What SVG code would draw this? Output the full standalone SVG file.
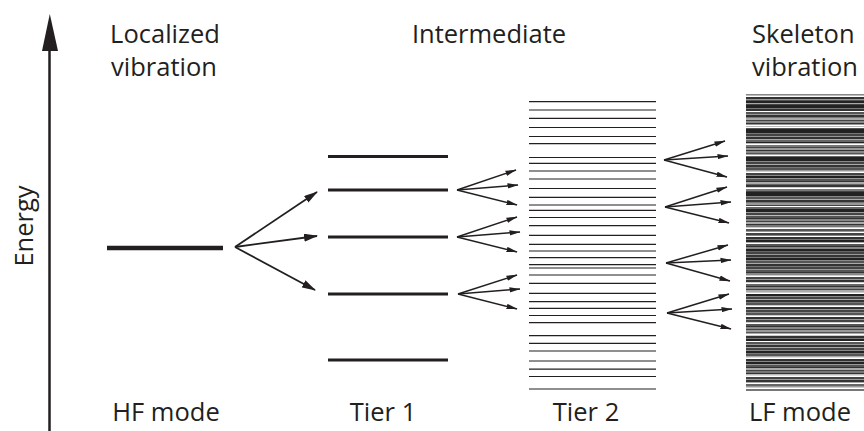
<svg xmlns="http://www.w3.org/2000/svg" width="864" height="431" viewBox="0 0 864 431">
<style>
  text { font-family: "Open Sans", "Noto Sans", "Liberation Sans", sans-serif; font-size: 25.5px; fill: #231f20; }
  .mid { text-anchor: middle; }
  .lvl1 { stroke: #231f20; stroke-width: 3; fill: none; }
  .lvl2 { stroke: #231f20; stroke-width: 1.2; fill: none; }
  .big { stroke: #231f20; stroke-width: 1.8; fill: none; }
  .small { stroke: #231f20; stroke-width: 1.5; fill: none; }
</style>
<defs>
  <marker id="ah" markerWidth="14" markerHeight="8" refX="13" refY="4" orient="auto" markerUnits="userSpaceOnUse">
    <path d="M0,0 L14,4 L0,8 z" fill="#231f20"/>
  </marker>
  <marker id="as" markerWidth="11" markerHeight="6" refX="10.5" refY="3" orient="auto" markerUnits="userSpaceOnUse">
    <path d="M0,0.3 L11,3 L0,5.7 z" fill="#231f20"/>
  </marker>
</defs>
<rect width="864" height="431" fill="#fff"/>

<g id="energy-axis">
  <line x1="49.5" y1="431" x2="49.5" y2="48" stroke="#231f20" stroke-width="2.5"/>
  <path d="M49.8,14 L58,51 L42,51 z" fill="#231f20"/>
  <text class="mid" transform="translate(33,226) rotate(-90)">Energy</text>
</g>

<g id="hf-mode">
  <text class="mid" x="165" y="43">Localized</text>
  <text class="mid" x="164" y="76">vibration</text>
  <line x1="107" y1="248" x2="223" y2="248" stroke="#231f20" stroke-width="4.5"/>
  <text class="mid" x="166" y="421">HF mode</text>
</g>

<g id="tier1">
  <path class="lvl1" d="M328 156.5h120M328 190h120M328 237h120M328 294h120M328 360h120"/>
  <text class="mid" x="383" y="421">Tier 1</text>
</g>

<g id="tier2">
  <text class="mid" x="489" y="43">Intermediate</text>
  <path class="lvl2" d="M529 101.7h127M529 110h127M529 118.3h127M529 127.5h127M529 136.5h127M529 143.7h127M529 157.5h127M529 163.3h127M529 171h127M529 179h127M529 188.5h127M529 197.3h127M529 205h127M529 210.3h127M529 217.5h127M529 225.7h127M529 235.3h127M529 244.3h127M529 251h127M529 257.7h127M529 264.7h127M529 268h127M529 275h127M529 283.3h127M529 293.3h127M529 301.7h127M529 308.3h127M529 315.5h127M529 322.7h127M529 335.7h127M529 343.3h127M529 351h127M529 361h127M529 369.2h127M529 376.5h127M529 389h127"/>
  <text class="mid" x="586" y="421">Tier 2</text>
</g>

<g id="lf-mode">
  <text x="752" y="43">Skeleton</text>
  <text x="752" y="76">vibration</text>
  <path fill="#222" d="M746 101h118v2h-118zM746 105h118v3h-118zM746 129h118v4h-118zM746 142h118v1h-118zM746 157h118v4h-118zM746 176h118v2h-118zM746 192h118v4h-118zM746 209h118v3h-118zM746 240h118v2h-118zM746 249h118v2h-118zM746 258h118v2h-118zM746 294h118v2h-118zM746 339h118v2h-118zM746 351h118v2h-118zM746 362h118v2h-118z"/>
  <path fill="#333" d="M746 97h118v2h-118zM746 109h118v2h-118zM746 115h118v2h-118zM746 123h118v1h-118zM746 137h118v2h-118zM746 150h118v1h-118zM746 165h118v2h-118zM746 181h118v1h-118zM746 185h118v2h-118zM746 200h118v2h-118zM746 218h118v1h-118zM746 224h118v1h-118zM746 237h118v2h-118zM746 246h118v1h-118zM746 255h118v2h-118zM746 264h118v2h-118zM746 272h118v1h-118zM746 280h118v2h-118zM746 286h118v1h-118zM746 300h118v2h-118zM746 307h118v2h-118zM746 317h118v2h-118zM746 326h118v1h-118zM746 336h118v2h-118zM746 345h118v2h-118zM746 359h118v2h-118zM746 367h118v1h-118zM746 373h118v1h-118zM746 380h118v2h-118z"/>
  <path fill="#444" d="M746 104h118v1h-118zM746 120h118v1h-118zM746 134h118v2h-118zM746 147h118v1h-118zM746 162h118v2h-118zM746 173h118v2h-118zM746 191h118v1h-118zM746 205h118v1h-118zM746 213h118v2h-118zM746 221h118v1h-118zM746 233h118v2h-118zM746 252h118v2h-118zM746 267h118v2h-118zM746 277h118v2h-118zM746 289h118v1h-118zM746 297h118v2h-118zM746 310h118v2h-118zM746 320h118v2h-118zM746 329h118v1h-118zM746 348h118v2h-118zM746 370h118v1h-118zM746 377h118v2h-118z"/>
  <path fill="#555" d="M746 100h118v1h-118zM746 112h118v2h-118zM746 128h118v1h-118zM746 153h118v1h-118zM746 168h118v2h-118zM746 179h118v2h-118zM746 197h118v2h-118zM746 216h118v2h-118zM746 229h118v2h-118zM746 244h118v2h-118zM746 261h118v2h-118zM746 270h118v2h-118zM746 303h118v2h-118zM746 313h118v2h-118zM746 324h118v2h-118zM746 332h118v1h-118zM746 342h118v2h-118zM746 354h118v2h-118zM746 365h118v2h-118z"/>
  <path fill="#666" d="M746 140h118v2h-118zM746 156h118v1h-118zM746 184h118v1h-118zM746 207h118v2h-118zM746 251h118v1h-118zM746 284h118v2h-118zM746 384h118v2h-118z"/>
  <path fill="#777" d="M746 108h118v1h-118zM746 117h118v1h-118zM746 133h118v1h-118zM746 145h118v2h-118zM746 167h118v1h-118zM746 189h118v2h-118zM746 202h118v1h-118zM746 225h118v2h-118zM746 239h118v1h-118zM746 257h118v1h-118zM746 266h118v1h-118zM746 302h118v1h-118zM746 338h118v1h-118zM746 353h118v1h-118zM746 371h118v2h-118zM746 389h118v2h-118z"/>
  <path fill="#888" d="M746 94h118v1h-118zM746 121h118v2h-118zM746 151h118v2h-118zM746 161h118v1h-118zM746 175h118v1h-118zM746 196h118v1h-118zM746 219h118v2h-118zM746 235h118v1h-118zM746 247h118v2h-118zM746 260h118v1h-118zM746 273h118v2h-118zM746 287h118v2h-118zM746 296h118v1h-118zM746 312h118v1h-118zM746 327h118v2h-118zM746 350h118v1h-118zM746 361h118v1h-118z"/>
  <path fill="#999" d="M746 99h118v1h-118zM746 114h118v1h-118zM746 124h118v1h-118zM746 136h118v1h-118zM746 148h118v2h-118zM746 170h118v1h-118zM746 178h118v1h-118zM746 203h118v2h-118zM746 212h118v1h-118zM746 231h118v1h-118zM746 254h118v1h-118zM746 269h118v1h-118zM746 279h118v1h-118zM746 309h118v1h-118zM746 319h118v1h-118zM746 330h118v2h-118zM746 344h118v1h-118zM746 364h118v1h-118zM746 379h118v1h-118zM746 386h118v1h-118z"/>
  <path fill="#aaa" d="M746 103h118v1h-118zM746 118h118v2h-118zM746 139h118v1h-118zM746 154h118v1h-118zM746 164h118v1h-118zM746 182h118v2h-118zM746 199h118v1h-118zM746 222h118v2h-118zM746 242h118v1h-118zM746 263h118v1h-118zM746 290h118v2h-118zM746 299h118v1h-118zM746 333h118v1h-118zM746 347h118v1h-118zM746 356h118v1h-118zM746 368h118v2h-118zM746 382h118v1h-118z"/>
  <path fill="#bbb" d="M746 95h118v1h-118zM746 126h118v1h-118zM746 143h118v1h-118zM746 215h118v1h-118zM746 374h118v1h-118z"/>
  <path fill="#ccc" d="M746 171h118v1h-118zM746 187h118v1h-118zM746 227h118v1h-118zM746 275h118v1h-118zM746 282h118v1h-118zM746 292h118v1h-118zM746 305h118v1h-118zM746 315h118v1h-118zM746 322h118v1h-118zM746 335h118v1h-118zM746 387h118v1h-118z"/>
  <path fill="#ddd" d="M746 357h118v1h-118zM746 375h118v1h-118z"/>
  <text x="749" y="421">LF mode</text>
</g>

<g id="connectors">
  <g class="big" marker-end="url(#ah)">
    <line x1="235" y1="247" x2="317" y2="192"/>
    <line x1="235" y1="247" x2="317" y2="236"/>
    <line x1="235" y1="247" x2="315" y2="290"/>
  </g>
  <g class="small" marker-end="url(#as)">
    <line x1="457" y1="190" x2="516" y2="170"/>
    <line x1="457" y1="190" x2="518" y2="185"/>
    <line x1="457" y1="190" x2="517" y2="205"/>
    <line x1="457" y1="237" x2="517" y2="217"/>
    <line x1="457" y1="237" x2="520" y2="232"/>
    <line x1="457" y1="237" x2="517" y2="252"/>
    <line x1="458" y1="294" x2="517" y2="275"/>
    <line x1="458" y1="294" x2="520" y2="289"/>
    <line x1="458" y1="294" x2="517" y2="309"/>
    <line x1="664" y1="160" x2="725" y2="141"/>
    <line x1="664" y1="160" x2="728" y2="156"/>
    <line x1="664" y1="160" x2="727" y2="177"/>
    <line x1="665" y1="207" x2="727" y2="187"/>
    <line x1="665" y1="207" x2="731" y2="202"/>
    <line x1="665" y1="207" x2="729" y2="223"/>
    <line x1="666" y1="263" x2="728" y2="245"/>
    <line x1="666" y1="263" x2="731" y2="260"/>
    <line x1="666" y1="263" x2="730" y2="281"/>
    <line x1="667" y1="313" x2="729" y2="294"/>
    <line x1="667" y1="313" x2="732" y2="309"/>
    <line x1="667" y1="313" x2="731" y2="329"/>
  </g>
</g>
</svg>
